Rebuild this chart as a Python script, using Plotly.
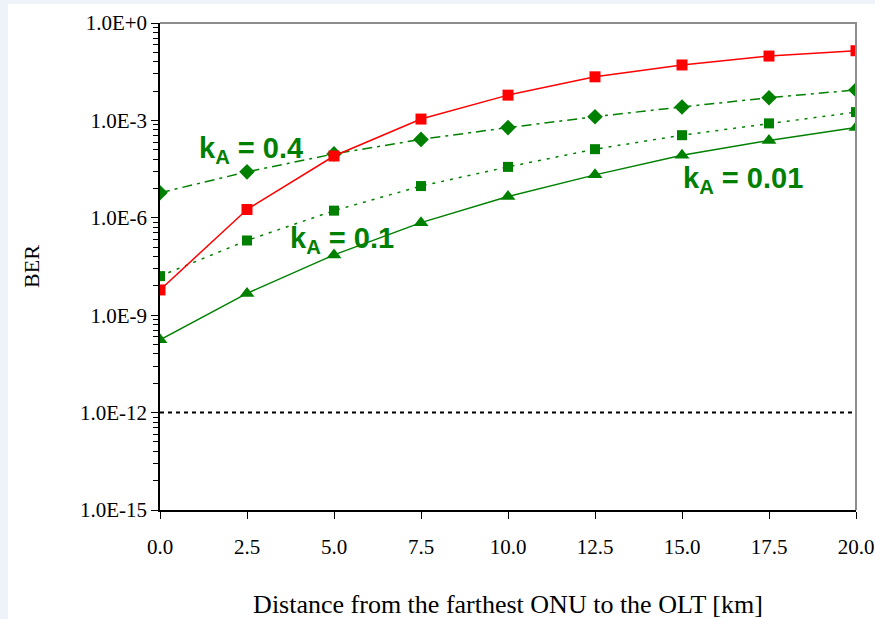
import plotly.graph_objects as go

distance_km = [0.0, 2.5, 5.0, 7.5, 10.0, 12.5, 15.0, 17.5, 20.0]

ber_red = [6.0e-9, 1.8e-6, 8.0e-5, 1.1e-3, 6.0e-3, 2.2e-2, 5.1e-2, 9.6e-2, 1.4e-1]
ber_k04 = [5.9e-6, 2.6e-5, 9.3e-5, 2.6e-4, 6.0e-4, 1.3e-3, 2.6e-3, 5.0e-3, 8.7e-3]
ber_k01 = [1.6e-8, 2.0e-7, 1.66e-6, 9.5e-6, 3.7e-5, 1.3e-4, 3.5e-4, 8.1e-4, 1.8e-3]
ber_k001 = [1.75e-10, 4.7e-9, 7.2e-8, 7.1e-7, 4.5e-6, 2.1e-5, 8.5e-5, 2.4e-4, 6.0e-4]
ber_limit = [1e-12, 1e-12]
limit_x = [0.0, 20.0]

x_tickvals = [0.0, 2.5, 5.0, 7.5, 10.0, 12.5, 15.0, 17.5, 20.0]
x_ticktext = ["0.0", "2.5", "5.0", "7.5", "10.0", "12.5", "15.0", "17.5", "20.0"]
y_tickvals = [1e0, 1e-3, 1e-6, 1e-9, 1e-12, 1e-15]
y_ticktext = ["1.0E+0", "1.0E-3", "1.0E-6", "1.0E-9", "1.0E-12", "1.0E-15"]

GREEN = "#008000"
RED = "#ff0000"

minor_vals = []
for m in range(0, 5):
    base = 10.0 ** (-3 * (m + 1))
    for k in range(2, 10):
        minor_vals.append(base * k ** 3)

fig = go.Figure()

fig.add_trace(go.Scatter(x=limit_x, y=ber_limit, mode="lines",
                         line=dict(color="black", width=2, dash="4px,4px"),
                         showlegend=False, hoverinfo="skip"))
fig.add_trace(go.Scatter(x=distance_km, y=ber_k001, mode="lines+markers",
                         line=dict(color=GREEN, width=1.5),
                         marker=dict(symbol="triangle-up", size=13, color=GREEN),
                         showlegend=False))
fig.add_trace(go.Scatter(x=distance_km, y=ber_k01, mode="lines+markers",
                         line=dict(color=GREEN, width=1.5, dash="3px,6px"),
                         marker=dict(symbol="square", size=10, color=GREEN),
                         showlegend=False))
fig.add_trace(go.Scatter(x=distance_km, y=ber_k04, mode="lines+markers",
                         line=dict(color=GREEN, width=1.5, dash="10px,5px,3px,5px"),
                         marker=dict(symbol="diamond", size=12, color=GREEN),
                         showlegend=False))
fig.add_trace(go.Scatter(x=distance_km, y=ber_red, mode="lines+markers",
                         line=dict(color=RED, width=1.5),
                         marker=dict(symbol="square", size=11, color=RED),
                         showlegend=False))

ann_font = dict(family="Arial", size=29, color=GREEN)
annotations = [
    dict(text="<b>k<sub>A</sub> = 0.4</b>", x=0.131, y=0.739),
    dict(text="<b>k<sub>A</sub> = 0.1</b>", x=0.262, y=0.554),
    dict(text="<b>k<sub>A</sub> = 0.01</b>", x=0.838, y=0.678),
]
for a in annotations:
    fig.add_annotation(text=a["text"], x=a["x"], y=a["y"], xref="paper", yref="paper",
                       showarrow=False, font=ann_font, xanchor="center", yanchor="middle")

fig.add_shape(type="rect", xref="paper", yref="paper",
              x0=(8 - 160) / 696, x1=(880 - 160) / 696,
              y0=(510 - 625) / 487, y1=(510 - 4) / 487,
              fillcolor="white", line=dict(width=0), layer="below")
fig.add_shape(type="path", xref="paper", yref="paper",
              path="M 0,1 L 1,1 L 1,0", line=dict(color="#8c8c8c", width=2))

serif = "Times New Roman"
fig.update_layout(
    width=875, height=619,
    margin=dict(l=160, r=19, t=23, b=109),
    paper_bgcolor="#eef2f9",
    plot_bgcolor="white",
    font=dict(family=serif, size=20, color="black"),
    xaxis=dict(range=[0, 20], tickvals=x_tickvals, ticktext=x_ticktext,
               showgrid=False, zeroline=False, showline=True, linecolor="black",
               linewidth=1.5, ticks="outside", ticklen=7, tickcolor="black",
               ticklabelstandoff=10, automargin=False,
               tickfont=dict(family=serif, size=21),
               title=dict(text="Distance from the farthest ONU to the OLT [km]",
                          font=dict(family=serif, size=26), standoff=38)),
    yaxis=dict(type="log", range=[-15, 0], tickvals=y_tickvals, ticktext=y_ticktext,
               showgrid=False, zeroline=False, showline=True, linecolor="black",
               linewidth=1.5, ticks="outside", ticklen=7, tickcolor="black",
               automargin=False,
               tickfont=dict(family=serif, size=21),
               minor=dict(tickvals=minor_vals, ticks="outside", ticklen=5,
                          tickcolor="black", showgrid=False),
               title=dict(text="BER", font=dict(family=serif, size=22), standoff=34)),
)

fig.write_html("out.html")
